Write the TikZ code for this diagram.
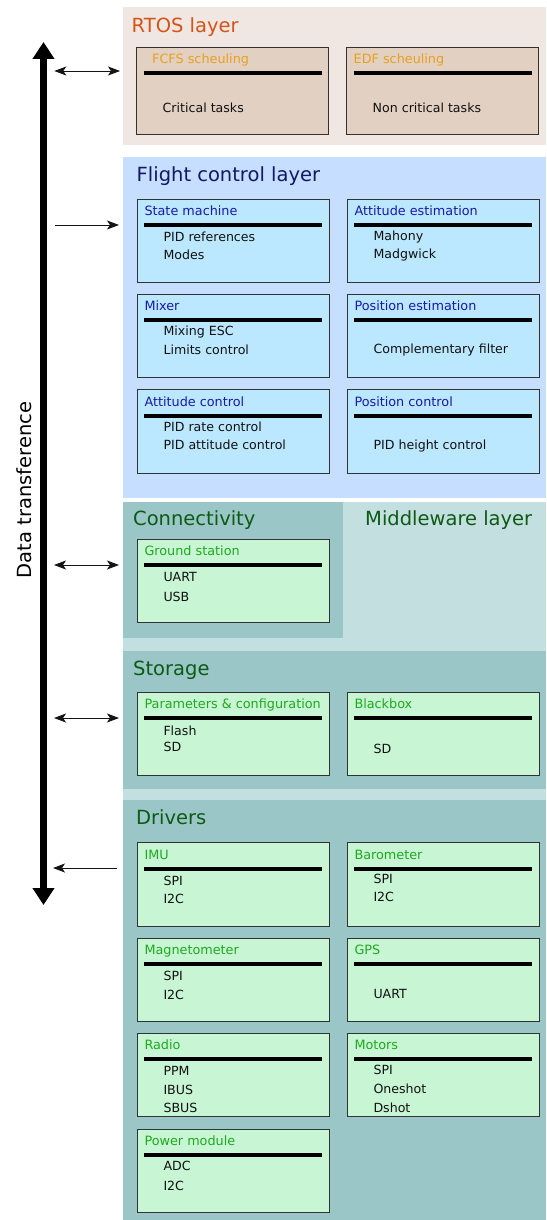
\documentclass[tikz,border=0pt]{standalone}
\usepackage{fontspec}
\setmainfont{DejaVu Sans}
\usetikzlibrary{arrows.meta,calc}
\definecolor{rtosbg}{RGB}{240,230,226}
\definecolor{rtosbox}{RGB}{226,209,194}
\definecolor{rtostitle}{RGB}{214,84,24}
\definecolor{rtosboxtitle}{RGB}{232,160,30}
\definecolor{fcbg}{RGB}{198,222,255}
\definecolor{fcbox}{RGB}{187,232,255}
\definecolor{fctitle}{RGB}{18,24,100}
\definecolor{fcboxtitle}{RGB}{25,25,170}
\definecolor{mwbg}{RGB}{196,223,224}
\definecolor{mwdark}{RGB}{155,198,200}
\definecolor{mwbox}{RGB}{200,245,212}
\definecolor{mwtitle}{RGB}{12,90,20}
\definecolor{mwboxtitle}{RGB}{30,170,30}
\definecolor{boxborder}{RGB}{50,50,50}
\definecolor{bodytext}{RGB}{17,17,17}
\definecolor{arrowc}{RGB}{20,20,20}
% #1 title x-offset, #2 name, #3 x, #4 y, #5 box options, #6 title colour, #7 title
\newcommand\compbox[7][7]{%
  \node[cbox,#5] (#2) at (#3,#4) {};
  \node[ctitle,text=#6] (#2-t) at ($(#2.north west)+(#1,16.5)$) {#7};
  \draw[sepline] ($(#2.north west)+(7,26)$) -- ($(#2.north east)+(-7,26)$);
}
% #1 name, #2 box, #3 dy, #4 text
\newcommand\bodyline[4]{%
  \node[cbody] (#1) at ($(#2.north west)+(26,#3)$) {#4};
}
\begin{document}
\begin{tikzpicture}[x=1pt,y=-1pt,
  cbox/.style={draw=boxborder, line width=0.9pt, minimum width=192pt, minimum height=83.5pt, inner sep=0pt, outer sep=0pt, anchor=north west},
  ctitle/.style={anchor=base west, inner sep=0pt, font=\fontsize{12.8}{15}\selectfont},
  cbody/.style={anchor=base west, inner sep=0pt, font=\fontsize{12.6}{15}\selectfont, text=bodytext},
  ltitle/.style={anchor=base west, inner sep=0pt, font=\fontsize{19.5}{23}\selectfont},
  sepline/.style={line width=4pt, draw=black},
  darr/.style={line width=0.9pt, draw=arrowc, {Stealth[length=12pt,width=9pt,inset=3pt]}-{Stealth[length=12pt,width=9pt,inset=3pt]}},
  sarr/.style={line width=0.9pt, draw=arrowc, -{Stealth[length=12pt,width=9pt,inset=3pt]}},
  bigarr/.style={line width=7pt, draw=black, {Triangle[width=21pt,length=17pt]}-{Triangle[width=21pt,length=17pt]}}
]
\useasboundingbox (0,0) rectangle (546,1220);
\fill[white] (0,0) rectangle (546,1220);

% layer backgrounds
\fill[rtosbg] (123,7.5) rectangle (546,145);
\fill[fcbg] (123,157) rectangle (546,497.7);
\fill[mwbg] (123,501.5) rectangle (546,800);
\fill[mwdark] (123,501.5) rectangle (343,638);
\fill[mwdark] (123,651) rectangle (546,789);
\fill[mwdark] (123,800) rectangle (546,1220);

% layer titles
\node[ltitle,text=rtostitle] (lrtos) at (131.5,33) {RTOS layer};
\node[ltitle,text=fctitle] (lfc) at (136.5,181.5) {Flight control layer};
\node[ltitle,text=mwtitle] (lconn) at (133,525) {Connectivity};
\node[ltitle,text=mwtitle] (lmw) at (365,525) {Middleware layer};
\node[ltitle,text=mwtitle] (lstor) at (133,675) {Storage};
\node[ltitle,text=mwtitle] (ldrv) at (136,824) {Drivers};

% RTOS layer
\compbox[15.5]{fcfs}{136.5}{47}{fill=rtosbox,minimum height=87pt}{rtosboxtitle}{FCFS scheuling}
\bodyline{fcfs1}{fcfs}{66}{Critical tasks}
\compbox{edf}{346.5}{47}{fill=rtosbox,minimum height=87pt,minimum width=192pt}{rtosboxtitle}{EDF scheuling}
\bodyline{edf1}{edf}{66}{Non critical tasks}

% Flight control layer
\compbox{sm}{137.3}{199}{fill=fcbox}{fcboxtitle}{State machine}
\bodyline{sm1}{sm}{42.5}{PID references}
\bodyline{sm2}{sm}{60}{Modes}
\compbox{ae}{347.3}{199}{fill=fcbox}{fcboxtitle}{Attitude estimation}
\bodyline{ae1}{ae}{41.5}{Mahony}
\bodyline{ae2}{ae}{59.5}{Madgwick}
\compbox{mx}{137.3}{294.3}{fill=fcbox}{fcboxtitle}{Mixer}
\bodyline{mx1}{mx}{41}{Mixing ESC}
\bodyline{mx2}{mx}{60}{Limits control}
\compbox{pe}{347.3}{294.3}{fill=fcbox}{fcboxtitle}{Position estimation}
\bodyline{pe1}{pe}{59}{Complementary filter}
\compbox{ac}{137.3}{389.5}{fill=fcbox}{fcboxtitle}{Attitude control}
\bodyline{ac1}{ac}{42}{PID rate control}
\bodyline{ac2}{ac}{60}{PID attitude control}
\compbox{pc}{347.3}{389.5}{fill=fcbox}{fcboxtitle}{Position control}
\bodyline{pc1}{pc}{60}{PID height control}

% Connectivity
\compbox{gs}{137.3}{539}{fill=mwbox}{mwboxtitle}{Ground station}
\bodyline{gs1}{gs}{42.7}{UART}
\bodyline{gs2}{gs}{62.7}{USB}

% Storage
\compbox{par}{137.3}{692.3}{fill=mwbox}{mwboxtitle}{Parameters \& configuration}
\bodyline{par1}{par}{42.7}{Flash}
\bodyline{par2}{par}{58.7}{SD}
\compbox{bb}{347.3}{692.3}{fill=mwbox}{mwboxtitle}{Blackbox}
\bodyline{bb1}{bb}{61}{SD}

% Drivers
\compbox{imu}{137.3}{842.7}{fill=mwbox}{mwboxtitle}{IMU}
\bodyline{imu1}{imu}{43}{SPI}
\bodyline{imu2}{imu}{60.6}{I2C}
\compbox{baro}{347.3}{842.7}{fill=mwbox}{mwboxtitle}{Barometer}
\bodyline{baro1}{baro}{40.6}{SPI}
\bodyline{baro2}{baro}{59}{I2C}
\compbox{mag}{137.3}{938}{fill=mwbox}{mwboxtitle}{Magnetometer}
\bodyline{mag1}{mag}{42.7}{SPI}
\bodyline{mag2}{mag}{61}{I2C}
\compbox{gps}{347.3}{938}{fill=mwbox}{mwboxtitle}{GPS}
\bodyline{gps1}{gps}{60.3}{UART}
\compbox{radio}{137.3}{1033.3}{fill=mwbox}{mwboxtitle}{Radio}
\bodyline{radio1}{radio}{41.7}{PPM}
\bodyline{radio2}{radio}{60.7}{IBUS}
\bodyline{radio3}{radio}{79.4}{SBUS}
\compbox{mot}{347.3}{1033.3}{fill=mwbox}{mwboxtitle}{Motors}
\bodyline{mot1}{mot}{41}{SPI}
\bodyline{mot2}{mot}{60}{Oneshot}
\bodyline{mot3}{mot}{79.4}{Dshot}
\compbox{pm}{137.3}{1129}{fill=mwbox}{mwboxtitle}{Power module}
\bodyline{pm1}{pm}{41.7}{ADC}
\bodyline{pm2}{pm}{61}{I2C}

% data transference arrow
\coordinate (bigtop) at (43.5,42);
\coordinate (bigbot) at (43.5,905);
\draw[bigarr] (bigtop) -- (bigbot);
\node[rotate=90, inner sep=0pt, font=\fontsize{19.5}{23}\selectfont, text=black] (dt) at (24,490) {Data transference};

% layer arrows
\coordinate (rtosL) at (54.3,71);   \coordinate (rtosR) at (120,71);
\coordinate (fcL) at (55,225);      \coordinate (fcR) at (119,225);
\coordinate (connL) at (54,565);    \coordinate (connR) at (119,565);
\coordinate (storL) at (54,718);    \coordinate (storR) at (119,718);
\coordinate (drvL) at (53,868);     \coordinate (drvR) at (117,868);
\draw[darr] (rtosL) -- (rtosR);
\draw[sarr] (fcL) -- (fcR);
\draw[darr] (connL) -- (connR);
\draw[darr] (storL) -- (storR);
\draw[sarr] (drvR) -- (drvL);
\end{tikzpicture}
\end{document}
